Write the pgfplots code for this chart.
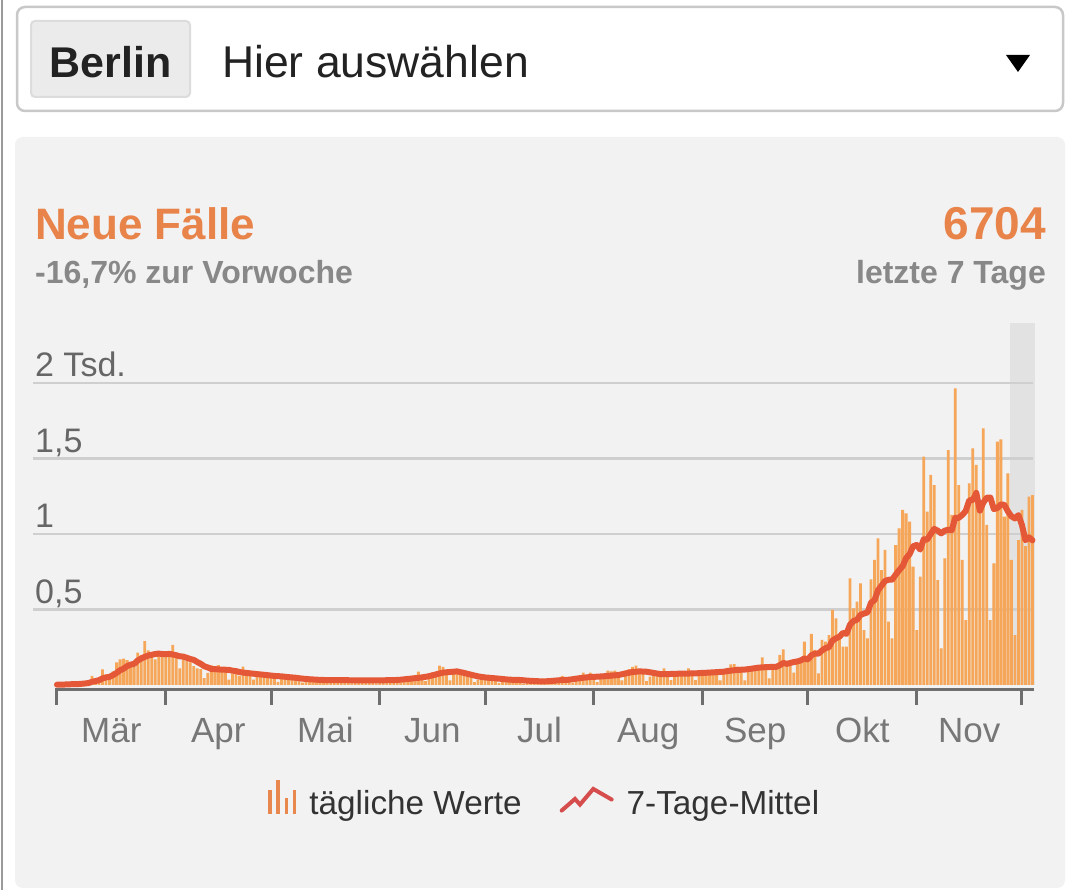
\documentclass[border=0pt]{standalone}
\usepackage{fontspec}
\setmainfont{Liberation Sans}
\usepackage{pgfplots}
\usepackage{pgfplotstable}
\pgfplotsset{compat=1.18}
\definecolor{barcol}{HTML}{F5A658}
\definecolor{linecol}{HTML}{E45838}
\definecolor{legbar}{HTML}{E8884F}
\definecolor{legline}{HTML}{D64D4D}
\definecolor{titleor}{HTML}{E8834A}
\definecolor{greytext}{HTML}{888888}
\definecolor{ticktext}{HTML}{666666}
\definecolor{monthtext}{HTML}{777777}
\definecolor{gridcol}{HTML}{CFCFCF}
\definecolor{axiscol}{HTML}{6E6E6E}
\definecolor{panel}{HTML}{F2F2F2}
\definecolor{bandcol}{HTML}{E2E2E2}
\definecolor{boxcol}{HTML}{C8C8C8}
\definecolor{btnfill}{HTML}{EBEBEB}
\definecolor{btnline}{HTML}{DCDCDC}
\definecolor{darktext}{HTML}{222222}
\definecolor{legtext}{HTML}{333333}
\definecolor{bordercol}{HTML}{9A9A9A}

\pgfplotstableread{
d v
0 2
1 3
2 4
3 6
4 8
5 10
6 12
7 14
8 18
9 24
10 60
11 40
12 45
13 104
14 70
15 55
16 90
17 150
18 170
19 175
20 165
21 140
22 120
23 214
24 199
25 290
26 230
27 190
28 170
29 200
30 190
31 185
32 215
33 265
34 180
35 110
36 170
37 160
38 150
39 125
40 110
41 105
42 45
43 80
44 130
45 125
46 132
47 100
48 95
49 35
50 75
51 88
52 60
53 121
54 70
55 75
56 35
57 55
58 75
59 70
60 72
61 68
62 55
63 20
64 40
65 60
66 55
67 62
68 58
69 48
70 15
71 28
72 40
73 36
74 40
75 38
76 32
77 12
78 27
79 40
80 36
81 41
82 40
83 33
84 10
85 24
86 36
87 33
88 38
89 36
90 30
91 11
92 26
93 38
94 35
95 40
96 38
97 32
98 15
99 36
100 54
101 50
102 56
103 88
104 45
105 25
106 56
107 84
108 77
109 128
110 120
111 70
112 30
113 99
114 102
115 80
116 75
117 60
118 55
119 19
120 35
121 50
122 45
123 50
124 48
125 40
126 14
127 28
128 40
129 36
130 40
131 38
132 32
133 9
134 20
135 30
136 28
137 31
138 30
139 25
140 10
141 24
142 36
143 33
144 60
145 36
146 30
147 16
148 36
149 54
150 82
151 56
152 82
153 45
154 19
155 44
156 66
157 95
158 90
159 95
160 55
161 30
162 95
163 105
164 120
165 128
166 92
167 75
168 25
169 56
170 84
171 77
172 88
173 110
174 70
175 33
176 58
177 86
178 79
179 90
180 110
181 72
182 33
183 64
184 96
185 88
186 100
187 96
188 80
189 30
190 76
191 114
192 137
193 139
194 121
195 95
196 30
197 88
198 110
199 121
200 132
201 183
202 110
203 44
204 121
205 130
206 199
207 236
208 143
209 150
210 82
211 155
212 177
213 287
214 188
215 338
216 232
217 77
218 298
219 287
220 331
221 497
222 441
223 309
224 254
225 254
226 706
227 508
228 552
229 673
230 364
231 309
232 700
233 828
234 971
235 760
236 894
237 420
238 309
239 927
240 1037
241 1159
242 1137
243 1082
244 784
245 364
246 717
247 1512
248 1148
249 1391
250 1324
251 695
252 243
253 839
254 1556
255 1126
256 1965
257 1324
258 828
259 430
260 1335
261 1567
262 1457
263 1137
264 1700
265 1060
266 430
267 806
268 1611
269 1627
270 1115
271 1402
272 828
273 331
274 960
275 1159
276 920
277 1247
278 1258
}\daily

\pgfplotstableread{
d a
0 2
2 3
4 5
6 6
8 10
9 13
10 21
11 26
12 32
13 44
14 50
15 54
16 66
17 80
18 98
19 108
20 125
21 135
22 140
23 162
24 175
25 186
26 195
27 200
28 205
29 208
30 205
31 204
32 206
33 202
34 197
35 190
36 188
37 180
38 172
39 166
40 152
41 140
42 124
43 116
44 106
45 105
46 103
47 102
48 101
49 100
50 95
51 92
52 86
53 82
54 80
55 77
56 75
57 72
58 70
60 65
62 60
64 57
66 52
68 48
70 42
72 38
74 35
76 33
80 33
84 31
88 30
92 31
96 32
98 35
100 40
102 45
104 50
106 58
108 70
110 82
112 86
114 90
116 80
118 68
120 57
122 50
124 46
126 42
128 37
130 34
132 33
134 29
136 26
138 24
140 25
142 29
144 33
146 35
148 42
150 48
152 53
154 55
156 58
158 62
160 66
162 76
164 86
166 90
168 88
170 80
172 72
174 72
176 74
178 75
180 76
182 77
184 80
186 82
188 85
190 88
192 95
194 100
196 102
198 108
200 115
202 118
204 120
205 120
206 131
207 146
208 140
209 146
210 152
211 156
212 163
213 176
214 169
215 197
216 208
217 208
218 228
219 244
220 250
221 294
222 309
223 320
224 345
225 339
226 399
227 424
228 432
229 465
230 473
231 481
232 545
233 562
234 628
235 658
236 689
237 697
238 697
239 730
240 760
241 787
242 840
243 867
244 919
245 927
246 897
247 965
248 963
249 1000
250 1034
251 1022
252 1004
253 1022
254 1028
255 1025
256 1107
257 1107
258 1126
259 1153
260 1223
261 1225
262 1272
263 1154
264 1208
265 1241
266 1241
267 1165
268 1172
269 1196
270 1193
271 1150
272 1117
273 1103
274 1125
275 1060
276 959
277 978
278 958
}\avg

\begin{document}
\begin{tikzpicture}[x=1pt,y=1pt]
\useasboundingbox (0,0) rectangle (1080,890);
\fill[white] (0,0) rectangle (1080,890);
\draw[bordercol, line width=2pt] (1.5,0) -- (1.5,890);
% dropdown
\draw[boxcol, line width=2.5pt, rounded corners=8pt, fill=white] (17,883) rectangle (1063,779);
\draw[btnline, line width=2pt, rounded corners=4pt, fill=btnfill] (31,869) rectangle (190,793);
\node[anchor=base, inner sep=0, font=\fontsize{43}{50}\selectfont\bfseries, text=darktext] at (110.5,812) {Berlin};
\node[anchor=base west, inner sep=0, font=\fontsize{44.5}{50}\selectfont, text=darktext] at (222,812) {Hier auswählen};
\fill[black] (1006,835) -- (1030,835) -- (1018,818) -- cycle;
% panel
\fill[panel, rounded corners=8pt] (15,753) rectangle (1065,2);
\node[anchor=base west, inner sep=0, font=\fontsize{44}{50}\selectfont\bfseries, text=titleor] at (35,650) {Neue Fälle};
\node[anchor=base east, inner sep=0, font=\fontsize{46}{50}\selectfont\bfseries, text=titleor] at (1046,650) {6704};
\node[anchor=base west, inner sep=0, font=\fontsize{32}{36}\selectfont\bfseries, text=greytext] at (35,606) {-16,7\% zur Vorwoche};
\node[anchor=base east, inner sep=0, font=\fontsize{32}{36}\selectfont\bfseries, text=greytext] at (1046,606) {letzte 7 Tage};

\begin{axis}[
  at={(55.2pt,205pt)}, anchor=south west,
  scale only axis, width=979pt, height=362.4pt,
  xmin=-0.5, xmax=278.5, ymin=0, ymax=2400,
  hide axis, clip=false,
  legend columns=2,
  legend style={draw=none, fill=none, at={(0.5,-0.315)}, anchor=center,
    font=\fontsize{33.3}{38}\selectfont, text=legtext,
    /tikz/every odd column/.append style={column sep=11pt},
    /tikz/every even column/.append style={column sep=36pt}},
]
\fill[bandcol] (axis cs:271.5,0) rectangle (axis cs:278.6,2400);
\draw[gridcol, line width=2.5pt] (axis cs:-6.84,500) -- (axis cs:278.1,500);
\draw[gridcol, line width=2.5pt] (axis cs:-6.84,1000) -- (axis cs:278.1,1000);
\draw[gridcol, line width=2.5pt] (axis cs:-6.84,1500) -- (axis cs:278.1,1500);
\draw[gridcol, line width=2.5pt] (axis cs:-6.84,2000) -- (axis cs:278.1,2000);
\node[anchor=base west, inner sep=0, font=\fontsize{34}{38}\selectfont, text=ticktext] at ([yshift=6pt]axis cs:-6.27,500) {0,5};
\node[anchor=base west, inner sep=0, font=\fontsize{34}{38}\selectfont, text=ticktext] at ([yshift=6pt]axis cs:-6.27,1000) {1};
\node[anchor=base west, inner sep=0, font=\fontsize{34}{38}\selectfont, text=ticktext] at ([yshift=6pt]axis cs:-6.27,1500) {1,5};
\node[anchor=base west, inner sep=0, font=\fontsize{34}{38}\selectfont, text=ticktext] at ([yshift=6pt]axis cs:-6.27,2000) {2 Tsd.};

\addplot[ybar, bar width=0.8, fill=barcol, draw=none,
  legend image code/.code={
    \fill[legbar] (0pt,-11pt) rectangle (3.6pt,13pt);
    \fill[legbar] (8.2pt,-11pt) rectangle (11.8pt,23pt);
    \fill[legbar] (16.4pt,-11pt) rectangle (20pt,5pt);
    \fill[legbar] (24.6pt,-11pt) rectangle (28.2pt,13pt);
  }] table[x=d, y=v] {\daily};
\addlegendentry{tägliche Werte}
\addplot[linecol, line width=6pt, line join=round, line cap=round,
  legend image code/.code={
    \draw[legline, line width=4pt, line join=miter] (0pt,-7.3pt) -- (13.3pt,4.3pt) -- (18.3pt,-1.3pt) -- (31.6pt,14.3pt) -- (50pt,3.7pt);
  }] table[x=d, y=a] {\avg};
\addlegendentry{7-Tage-Mittel}

\draw[axiscol, line width=3pt] ([yshift=-5pt,xshift=-1.5pt]axis cs:0,0) -- ([yshift=-5pt]axis cs:278.4,0);
\draw[axiscol, line width=3pt] ([yshift=-5pt]axis cs:0,0) -- ([yshift=-20pt]axis cs:0,0);
\draw[axiscol, line width=3pt] ([yshift=-5pt]axis cs:31,0) -- ([yshift=-20pt]axis cs:31,0);
\draw[axiscol, line width=3pt] ([yshift=-5pt]axis cs:61,0) -- ([yshift=-20pt]axis cs:61,0);
\draw[axiscol, line width=3pt] ([yshift=-5pt]axis cs:92,0) -- ([yshift=-20pt]axis cs:92,0);
\draw[axiscol, line width=3pt] ([yshift=-5pt]axis cs:122,0) -- ([yshift=-20pt]axis cs:122,0);
\draw[axiscol, line width=3pt] ([yshift=-5pt]axis cs:153,0) -- ([yshift=-20pt]axis cs:153,0);
\draw[axiscol, line width=3pt] ([yshift=-5pt]axis cs:184,0) -- ([yshift=-20pt]axis cs:184,0);
\draw[axiscol, line width=3pt] ([yshift=-5pt]axis cs:214,0) -- ([yshift=-20pt]axis cs:214,0);
\draw[axiscol, line width=3pt] ([yshift=-5pt]axis cs:245,0) -- ([yshift=-20pt]axis cs:245,0);
\draw[axiscol, line width=3pt] ([yshift=-5pt]axis cs:275,0) -- ([yshift=-20pt]axis cs:275,0);
\node[anchor=base, inner sep=0, font=\fontsize{35}{40}\selectfont, text=monthtext] at ([yshift=-58pt]axis cs:15.5,0) {Mär};
\node[anchor=base, inner sep=0, font=\fontsize{35}{40}\selectfont, text=monthtext] at ([yshift=-58pt]axis cs:46,0) {Apr};
\node[anchor=base, inner sep=0, font=\fontsize{35}{40}\selectfont, text=monthtext] at ([yshift=-58pt]axis cs:76.5,0) {Mai};
\node[anchor=base, inner sep=0, font=\fontsize{35}{40}\selectfont, text=monthtext] at ([yshift=-58pt]axis cs:107,0) {Jun};
\node[anchor=base, inner sep=0, font=\fontsize{35}{40}\selectfont, text=monthtext] at ([yshift=-58pt]axis cs:137.5,0) {Jul};
\node[anchor=base, inner sep=0, font=\fontsize{35}{40}\selectfont, text=monthtext] at ([yshift=-58pt]axis cs:168.5,0) {Aug};
\node[anchor=base, inner sep=0, font=\fontsize{35}{40}\selectfont, text=monthtext] at ([yshift=-58pt]axis cs:199,0) {Sep};
\node[anchor=base, inner sep=0, font=\fontsize{35}{40}\selectfont, text=monthtext] at ([yshift=-58pt]axis cs:229.5,0) {Okt};
\node[anchor=base, inner sep=0, font=\fontsize{35}{40}\selectfont, text=monthtext] at ([yshift=-58pt]axis cs:260,0) {Nov};
\end{axis}
\end{tikzpicture}
\end{document}
